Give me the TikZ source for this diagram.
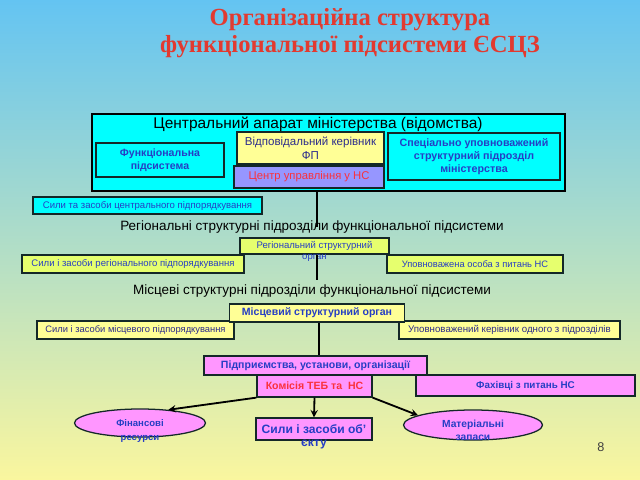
\documentclass[tikz,border=0pt]{standalone}
\usepackage{fontspec}
\setmainfont{Liberation Sans}
\newfontfamily\titlefont{Liberation Serif}
\usepackage{xcolor}
\usetikzlibrary{shapes.geometric}
\definecolor{bgtop}{RGB}{100,196,242}
\definecolor{bgmid}{RGB}{172,224,212}
\definecolor{bgbot}{RGB}{250,246,158}
\definecolor{titlered}{RGB}{226,58,48}
\definecolor{txtblue}{RGB}{38,62,196}
\definecolor{txtnavy}{RGB}{44,44,140}
\definecolor{txtred}{RGB}{250,50,60}
\definecolor{boxcyan}{RGB}{0,255,255}
\definecolor{boxyellow}{RGB}{255,255,150}
\definecolor{boxlime}{RGB}{230,255,110}
\definecolor{boxlilac}{RGB}{150,150,255}
\definecolor{boxpink}{RGB}{255,150,255}
\definecolor{edge}{RGB}{20,40,40}
\newcommand{\fs}[2]{\fontsize{#1}{#2}\selectfont}
% second line runs out of the box
\newcommand{\twolines}[2]{\smash{\begin{tabular}[t]{@{}c@{}}#1\\#2\end{tabular}}\vphantom{#1}}

\begin{document}
\begin{tikzpicture}[x=0.025cm,y=-0.025cm,>=stealth,
  box/.style={draw=edge,line width=0.9pt,align=center,inner sep=1pt,text=txtblue},
  cbox/.style={box,fill=boxcyan},
  ybox/.style={box,fill=boxyellow,text=txtnavy},
  lbox/.style={box,fill=boxlime},
  pbox/.style={box,fill=boxpink},
  oval/.style={box,ellipse,fill=boxpink},
  lvl/.style={font=\fs{9.6}{11}},
  link/.style={draw=black,line width=1.2pt},
  arr/.style={->,draw=black,line width=1.3pt}]
  \useasboundingbox (0,0) rectangle (640,480);
  \fill[top color=bgtop,middle color=bgmid,bottom color=bgbot] (0,0) rectangle (640,480);
  \node[text=titlered,font=\titlefont\bfseries\fs{17.5}{19.5},align=center] (nTitle) at (350,33) {Організаційна структура\\функціональної підсистеми ЄСЦЗ};
  % central level
  \node[draw=black,line width=1.4pt,fill=boxcyan,minimum width=11.825cm,minimum height=1.925cm] (nCentral) at (328.5,152.5) {};
  \node[font=\fs{11}{12}] (nCentralLbl) at (318,124) {Центральний апарат міністерства (відомства)};
  \node[cbox,font=\bfseries\fs{7.5}{9.2},minimum width=3.2cm,minimum height=0.85cm] (nFunc) at (160,160) {Функціональна\\підсистема};
  \node[ybox,font=\fs{8.2}{10},minimum width=3.675cm,minimum height=0.8cm] (nHead) at (310.5,148) {Відповідальний керівник\\ФП};
  \node[box,fill=boxlilac,text=txtred,font=\fs{8}{9},minimum width=3.75cm,minimum height=0.55cm] (nCentre) at (309,177) {Центр управління у НС};
  \node[cbox,font=\bfseries\fs{7.6}{9.2},minimum width=4.3cm,minimum height=1.175cm] (nSpec) at (474,156.5) {Спеціально уповноважений\\структурний підрозділ\\міністерства};
  \node[cbox,font=\fs{6.8}{8},minimum width=5.725cm,minimum height=0.425cm] (nCentForces) at (147.5,205.5) {Сили та засоби центрального підпорядкування};
  % regional level
  \node[lvl] (nRegLbl) at (312,227) {Регіональні структурні підрозділи функціональної підсистеми};
  \node[lbox,font=\fs{6.8}{8},minimum width=3.725cm,minimum height=0.4cm] (nRegOrg) at (314.5,246) {\twolines{Регіональний структурний}{орган}};
  \node[lbox,font=\fs{6.8}{8},minimum width=5.55cm,minimum height=0.45cm] (nRegForces) at (133,264) {Сили і засоби регіонального підпорядкування};
  \node[lbox,font=\fs{6.65}{8},minimum width=4.4cm,minimum height=0.45cm] (nRegPerson) at (475,264) {Уповноважена особа з питань НС};
  % local level
  \node[lvl] (nLocLbl) at (312,291) {Місцеві структурні підрозділи функціональної підсистеми};
  \node[ybox,font=\fs{6.65}{8},minimum width=4.925cm,minimum height=0.45cm] (nLocForces) at (135.5,330) {Сили і засоби місцевого підпорядкування};
  \node[ybox,font=\fs{6.9}{8},minimum width=5.525cm,minimum height=0.45cm] (nLocHead) at (509.5,330) {Уповноважений керівник одного з підрозділів};
  \node[ybox,text=txtblue,font=\bfseries\fs{7.5}{8},minimum width=4.375cm,minimum height=0.45cm] (nLocOrg) at (317,313) {Місцевий структурний орган};
  % object level
  \node[pbox,font=\bfseries\fs{7.5}{8},minimum width=5.575cm,minimum height=0.475cm] (nEnterprise) at (315.5,365.5) {Підприємства, установи, організації};
  \node[pbox,text=txtred,font=\bfseries\fs{7.5}{8},minimum width=2.875cm,minimum height=0.55cm] (nCommission) at (314.5,386) {Комісія ТЕБ та\ \ НС};
  \node[pbox,font=\bfseries\fs{7}{8},minimum width=5.475cm,minimum height=0.525cm] (nExperts) at (525.5,385.5) {Фахівці з питань НС};
  \node[pbox,font=\bfseries\fs{8.6}{9.2},minimum width=2.9cm,minimum height=0.55cm] (nObjForces) at (314,429) {\twolines{Сили і засоби об'}{єкту}};
  \node[oval,font=\bfseries\fs{6.8}{10},minimum width=3.275cm,minimum height=0.7cm] (nFin) at (140,423) {\twolines{Фінансові}{ресурси}};
  \node[oval,font=\bfseries\fs{7.3}{9.2},minimum width=3.475cm,minimum height=0.75cm] (nMat) at (473,425) {\twolines{Матеріальні}{запаси}};
  \node[font=\fs{9}{10},text=black!75] (nPage) at (601,447) {8};
  % connectors
  \coordinate (spine) at (317,0);
  \coordinate (spine2) at (319,0);
  \draw[link] (spine |- nCentral.south) -- (spine |- nRegLbl.center);
  \draw[link] (spine |- nRegOrg.south) -- (spine |- nLocLbl.north);
  \draw[link] (spine2 |- nLocOrg.south) -- (spine2 |- nEnterprise.north);
  \draw[arr] (nCommission.south west) -- (nFin.25);
  \draw[arr] (nCommission.south) -- (nObjForces.north);
  \draw[arr] (nCommission.south east) -- (nMat.170);
\end{tikzpicture}
\end{document}
